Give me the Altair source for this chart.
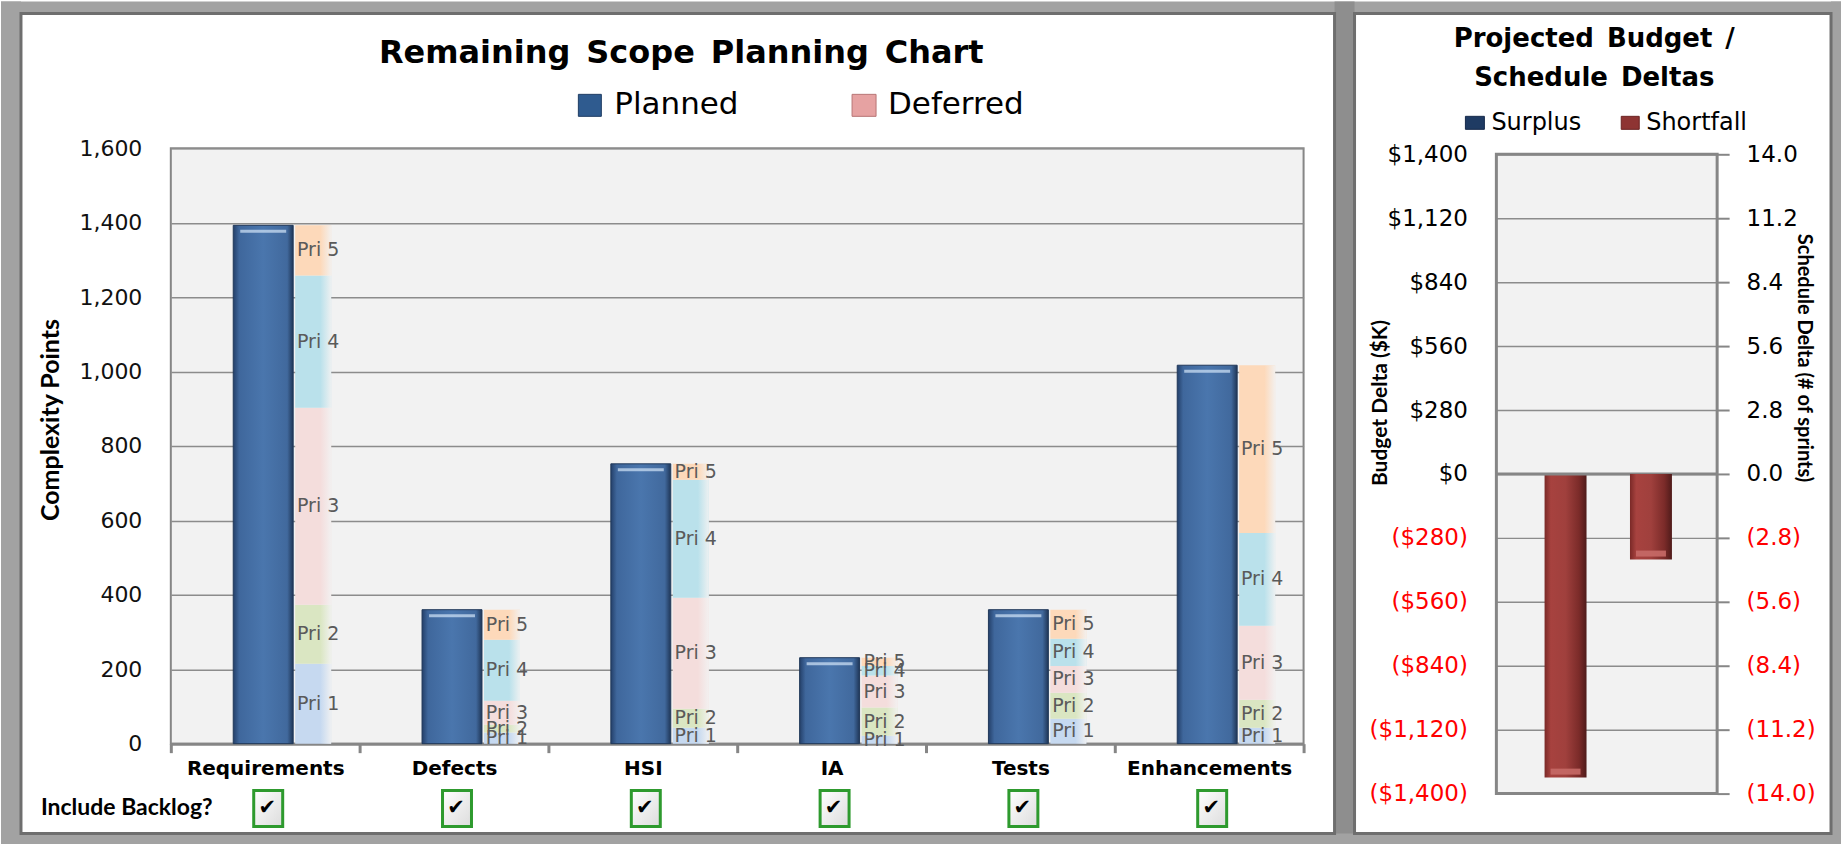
import altair as alt
import pandas as pd

# ---------------- data ----------------
CATEGORIES = ["Requirements", "Defects", "HSI", "IA", "Tests", "Enhancements"]
PLANNED = [1393, 360, 752, 231, 360, 1017]
PRI_1 = [215, 30, 43, 21, 67, 43]
PRI_2 = [158, 21, 51, 76, 70, 75]
PRI_3 = [530, 64, 298, 86, 72, 199]
PRI_4 = [355, 164, 317, 26, 73, 249]
PRI_5 = [135, 81, 43, 22, 78, 451]
PRIORITIES = ["Pri 1", "Pri 2", "Pri 3", "Pri 4", "Pri 5"]
PRI_COLORS = ["#C6D9F0", "#DAE6C2", "#F4DDDC", "#BAE1EB", "#FDD9BA"]
POINT_TICKS = [0, 200, 400, 600, 800, 1000, 1200, 1400, 1600]

DELTA_METRICS = ["Budget", "Schedule"]
BUDGET_DELTA_K = [-1330]
SCHEDULE_DELTA_SPRINTS = [-3.75]
BUDGET_TICKS = [-1400, -1120, -840, -560, -280, 0, 280, 560, 840, 1120, 1400]
SCHEDULE_TICKS = [-14.0, -11.2, -8.4, -5.6, -2.8, 0.0, 2.8, 5.6, 8.4, 11.2, 14.0]

# ---------------- tables ----------------
planned_df = pd.DataFrame({"category": CATEGORIES, "planned": PLANNED})
rows = []
for pri, vals in zip(PRIORITIES, [PRI_1, PRI_2, PRI_3, PRI_4, PRI_5]):
    for cat, v in zip(CATEGORIES, vals):
        rows.append({"category": cat, "priority": pri, "points": v})
deferred_df = pd.DataFrame(rows)
budget_df = pd.DataFrame({"metric": [DELTA_METRICS[0]], "value": BUDGET_DELTA_K})
schedule_df = pd.DataFrame({"metric": [DELTA_METRICS[1]], "value": SCHEDULE_DELTA_SPRINTS})
one = pd.DataFrame({"k": [0]})

FONT = "DejaVu Sans"
GRID = "#8C8C8C"
FRAME = "#868686"

W, H = 1134, 596          # scope plot area
RW, RH = 221, 646         # delta plot area


def txt(text, x, y, size, weight="normal", font=FONT, angle=0, align="center", color="#000000"):
    return alt.Chart(one).mark_text(
        text=text, fontSize=size, fontWeight=weight, font=font, angle=angle,
        align=align, baseline="middle", color=color,
    ).encode(x=alt.value(x), y=alt.value(y))


def box(x, x2, y, y2, **mark):
    return alt.Chart(one).mark_rect(**mark).encode(
        x=alt.value(x), x2=alt.value(x2), y=alt.value(y), y2=alt.value(y2)
    )


# ---------------- scope planning chart ----------------
x_cat = alt.X(
    "category:N", sort=CATEGORIES, title=None,
    scale=alt.Scale(domain=CATEGORIES, paddingInner=0, paddingOuter=0),
    axis=alt.Axis(labelFont=FONT, labelFontSize=20, labelFontWeight="bold", labelColor="#000000",
                  labelAngle=0, labelPadding=6, tickBand="extent", tickSize=9, tickWidth=3,
                  tickColor=FRAME, domainColor=FRAME, domainWidth=3, grid=False),
)
y_scale = alt.Scale(domain=[0, 1600], nice=False)
y_axis = alt.Axis(values=POINT_TICKS, labelExpr="format(datum.value, ',')", labelFont=FONT,
                  labelFontSize=22, labelColor="#111111", labelPadding=29, tickSize=0,
                  domain=False, grid=True, gridColor=GRID, gridWidth=1.5, title=None)

planned_grad = alt.LinearGradient(
    gradient="linear", x1=0, x2=1, y1=0, y2=0,
    stops=[alt.GradientStop(offset=0, color="#24406A"),
           alt.GradientStop(offset=0.1, color="#3F679C"),
           alt.GradientStop(offset=0.5, color="#4A76AD"),
           alt.GradientStop(offset=0.9, color="#41699D"),
           alt.GradientStop(offset=1, color="#1F3657")],
)
planned_bars = alt.Chart(planned_df).mark_bar(
    size=60, xOffset=-2, color=planned_grad, stroke="#203859", strokeWidth=1
).encode(x=x_cat, y=alt.Y("planned:Q", scale=y_scale, axis=y_axis))
planned_shine = alt.Chart(planned_df).mark_tick(
    size=46, thickness=3, xOffset=-2, yOffset=6, color="#D3E6F8"
).encode(x=x_cat, y=alt.Y("planned:Q", scale=y_scale))

stacked = alt.Chart(deferred_df).transform_calculate(
    rank="indexof(['Pri 1','Pri 2','Pri 3','Pri 4','Pri 5'], datum.priority)"
).transform_stack(
    stack="points", groupby=["category"], sort=[alt.SortField("rank", order="ascending")],
    as_=["y0", "y1"],
).transform_calculate(mid="(datum.y0 + datum.y1) / 2")

deferred_bars = stacked.mark_bar(size=36, xOffset=48).encode(
    x=x_cat,
    y=alt.Y("y1:Q", scale=y_scale),
    y2="y0:Q",
    color=alt.Color("priority:N", scale=alt.Scale(domain=PRIORITIES, range=PRI_COLORS), legend=None),
)
fade = alt.LinearGradient(
    gradient="linear", x1=0, x2=1, y1=0, y2=0,
    stops=[alt.GradientStop(offset=0, color="rgba(242,242,242,0)"),
           alt.GradientStop(offset=0.7, color="rgba(242,242,242,0)"),
           alt.GradientStop(offset=1, color="rgba(242,242,242,0.9)")],
)
deferred_fade = alt.Chart(planned_df).mark_bar(size=36, xOffset=48, color=fade).encode(
    x=x_cat, y=alt.Y("planned:Q", scale=y_scale)
)
deferred_labels = stacked.mark_text(
    xOffset=53, font=FONT, fontSize=19, color="#5A5A5A", baseline="middle"
).encode(x=x_cat, y=alt.Y("mid:Q", scale=y_scale), text="priority:N")

check_fill = alt.LinearGradient(
    gradient="linear", x1=0, x2=1, y1=0, y2=1,
    stops=[alt.GradientStop(offset=0, color="#FFFFFF"),
           alt.GradientStop(offset=1, color="#DCDCDC")],
)
check_boxes = alt.Chart(planned_df).mark_bar(
    size=29, xOffset=3, color=check_fill, stroke="#2E9A2E", strokeWidth=3
).encode(x=x_cat, y=alt.value(643), y2=alt.value(679))
check_marks = alt.Chart(planned_df).mark_text(
    text="✔", xOffset=2, font=FONT, fontSize=21, color="#000000", baseline="middle"
).encode(x=x_cat, y=alt.value(660))

# page frame strips and panel edges (pixel space of this panel)
frame_layers = [
    box(-170, -150, -147, 697, color="#A2A2A2"),
    box(-170, 1672, -147, -135, color="#A2A2A2"),
    box(1165, 1185, -147, 697, color="#8E8E8E"),
    box(1662, 1672, -147, 697, color="#A2A2A2"),
    box(-170, 1672, 686, 697, color="#A2A2A2"),
    box(-150, 1165, -135, 686, fill="transparent", stroke="#6E6E6E", strokeWidth=3),
    box(1185, 1662, -135, 686, fill="transparent", stroke="#6E6E6E", strokeWidth=3),
]

scope_deco = [
    txt("Remaining\u2002Scope\u2002Planning\u2002Chart", 511, -95, 32, weight="bold"),
    box(408, 431, -54, -32, color="#2F5B8F", stroke="#1F3D63", strokeWidth=1),
    txt("Planned", 444, -43, 31, align="left"),
    box(682, 706, -54, -32, color="#E6A2A2", stroke="#B77474", strokeWidth=1),
    txt("Deferred", 718, -43, 31, align="left"),
    txt("Complexity Points", -120, 272, 25, weight="bold", font="Lato", angle=270),
    txt("Include Backlog?", -130, 660, 23, weight="bold", font="Lato", align="left"),
]

scope_chart = alt.layer(
    *frame_layers, *scope_deco,
    planned_bars, planned_shine, deferred_bars, deferred_fade, deferred_labels,
    check_boxes, check_marks,
).properties(
    width=W, height=H,
    view=alt.ViewBackground(fill="#F2F2F2", stroke=FRAME, strokeWidth=2),
)

# ---------------- budget / schedule deltas ----------------
x_metric = alt.X("metric:N", scale=alt.Scale(domain=DELTA_METRICS, paddingInner=0, paddingOuter=0),
                 axis=None)
budget_scale = alt.Scale(domain=[-1400, 1400], range=[RH, 6], nice=False, zero=False)
schedule_scale = alt.Scale(domain=[-14, 14], range=[RH, 6], nice=False, zero=False)
neg_red = {"condition": {"test": "datum.value < 0", "value": "#FF0000"}, "value": "#000000"}

budget_axis = alt.Axis(
    orient="left", values=BUDGET_TICKS, title=None, domain=False, tickSize=0, labelPadding=29,
    labelFont=FONT, labelFontSize=23, labelColor=neg_red,
    labelExpr="datum.value < 0 ? '($' + format(-datum.value, ',') + ')' : '$' + format(datum.value, ',') + '\u2008'",
    grid=True, gridColor=GRID, gridWidth=1.5,
)
schedule_axis = alt.Axis(
    orient="right", values=SCHEDULE_TICKS, title=None, domain=False, tickSize=12, tickWidth=2,
    tickColor=FRAME, labelPadding=17, labelFont=FONT, labelFontSize=23, labelColor=neg_red,
    labelExpr="datum.value < 0 ? '(' + format(-datum.value, '.1f') + ')' : format(datum.value, '.1f')",
    grid=False,
)

short_grad = alt.LinearGradient(
    gradient="linear", x1=0, x2=1, y1=0, y2=0,
    stops=[alt.GradientStop(offset=0, color="#7A2927"),
           alt.GradientStop(offset=0.15, color="#A7423F"),
           alt.GradientStop(offset=0.5, color="#A0403D"),
           alt.GradientStop(offset=0.82, color="#7B2B29"),
           alt.GradientStop(offset=1, color="#4F1B1A")],
)

budget_layer = alt.layer(
    alt.Chart(budget_df).mark_bar(size=42, xOffset=14, color=short_grad).encode(
        x=x_metric, y=alt.Y("value:Q", scale=budget_scale, axis=budget_axis)),
    alt.Chart(budget_df).mark_tick(size=30, thickness=6, xOffset=14, yOffset=-6,
                                   color="#C76A67", opacity=0.9).encode(
        x=x_metric, y=alt.Y("value:Q", scale=budget_scale)),
    alt.Chart(one).mark_rule(color=FRAME, strokeWidth=3).encode(
        y=alt.datum(0), x=alt.value(0), x2=alt.value(RW)),
)
schedule_layer = alt.layer(
    alt.Chart(schedule_df).mark_bar(size=42, xOffset=-11, color=short_grad).encode(
        x=x_metric, y=alt.Y("value:Q", scale=schedule_scale, axis=schedule_axis)),
    alt.Chart(schedule_df).mark_tick(size=30, thickness=6, xOffset=-11, yOffset=-6,
                                     color="#C76A67", opacity=0.9).encode(
        x=x_metric, y=alt.Y("value:Q", scale=schedule_scale)),
)

delta_deco = [
    box(-1, RW + 1, -2, 5, color="#FFFFFF"),
    txt("Projected\u2002Budget\u2002/", 98, -109, 26, weight="bold"),
    txt("Schedule\u2002Deltas", 98, -70, 26, weight="bold"),
    box(-31, -12, -32, -19, color="#1F3B63", stroke="#15294A", strokeWidth=1),
    txt("Surplus", -5, -25, 24, align="left"),
    box(125, 143, -32, -19, color="#8E3433", stroke="#6A2222", strokeWidth=1),
    txt("Shortfall", 150, -25, 24, align="left"),
    txt("Budget Delta ($K)", -115, 255, 21, weight="bold", font="Lato", angle=270),
    txt("Schedule Delta (# of sprints)", 308, 210, 20, weight="bold", font="Lato", angle=90),
]

delta_chart = alt.layer(
    *delta_deco, budget_layer, schedule_layer,
    box(0, RW, 6, RH, fill="transparent", stroke=FRAME, strokeWidth=3),
).resolve_scale(y="independent").properties(
    width=RW, height=RH,
    view=alt.ViewBackground(fill="#F2F2F2", stroke="transparent", strokeWidth=0),
)

chart = alt.hconcat(scope_chart, delta_chart, spacing=193, bounds="flush").properties(
    background="#FFFFFF", padding=0, autosize=alt.AutoSizeParams(type="pad"),
)

chart.save("out.html", embed_options={"renderer": "svg", "actions": False})
